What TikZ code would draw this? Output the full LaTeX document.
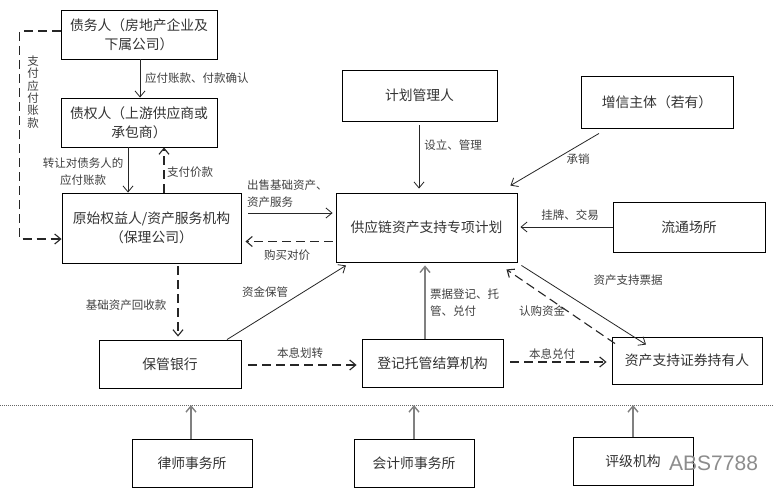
\documentclass[tikz,border=0pt]{standalone}
\usepackage{fontspec}
\newfontfamily\cjk{Noto Sans CJK SC}
\newfontfamily\wmfont{Liberation Sans}
\usetikzlibrary{arrows.meta}
\begin{document}
\begin{tikzpicture}[x=1pt,y=-1pt]
\tikzset{
 box/.style={draw=black, line width=0.9pt, fill=white, text=black!80, font=\cjk\fontsize{13.8}{19}\selectfont, align=center, inner sep=0pt},
 lbl/.style={text=black!75, font=\cjk\fontsize{11.5}{17}\selectfont, inner sep=0pt},
 arr/.style={-{Straight Barb[length=6pt,width=10pt]}, line width=0.8pt, draw=black!85},
 darr/.style={arr, line width=1.1pt, dash pattern=on 9pt off 5pt},
 garr/.style={arr, draw=black!50, line width=1.4pt},
}
\useasboundingbox (0,0) rectangle (774,495);
\fill[white] (0,0) rectangle (774,495);

% boxes
\node[box, minimum width=156pt, minimum height=49pt] (debtor) at (139,34.5) {债务人（房地产企业及\\下属公司）};
\node[box, minimum width=156pt, minimum height=49pt] (creditor) at (139,122.5) {债权人（上游供应商或\\承包商）};
\node[box, minimum width=179pt, minimum height=70pt] (orig) at (151.5,228) {原始权益人/资产服务机构\\（保理公司）};
\node[box, minimum width=155pt, minimum height=51pt] (mgr) at (419.5,95.5) {计划管理人};
\node[box, minimum width=152pt, minimum height=52pt] (enh) at (657,102) {增信主体（若有）};
\node[box, minimum width=181pt, minimum height=69pt] (plan) at (426.5,227.5) {供应链资产支持专项计划};
\node[box, minimum width=152pt, minimum height=50pt] (exch) at (689,227) {流通场所};
\node[box, minimum width=142pt, minimum height=48pt] (bank) at (170,364) {保管银行};
\node[box, minimum width=141pt, minimum height=48pt] (depo) at (432.5,363) {登记托管结算机构};
\node[box, minimum width=150pt, minimum height=47pt] (holder) at (687,360.5) {资产支持证券持有人};
\node[box, minimum width=120pt, minimum height=48pt] (law) at (192,463) {律师事务所};
\node[box, minimum width=120pt, minimum height=48pt] (acct) at (414,463) {会计师事务所};
\node[box, minimum width=120pt, minimum height=48pt] (rating) at (633,461) {评级机构};

% separator
\coordinate (sepL) at (0,405);
\coordinate (sepR) at (774,405);
\draw[black!60, line width=0.9pt, dash pattern=on 1pt off 1pt] (sepL) -- (sepR);

% connectors
\draw[arr] ([xshift=1pt]debtor.south) -- ([xshift=1pt]creditor.north);
\node[lbl, anchor=west] (l1) at (145,78) {应付账款、付款确认};

\draw[darr] ([yshift=3.5pt]debtor.west) -- ++(-41,0) |- ([yshift=-11pt]orig.west);
\node[lbl, align=center, font=\cjk\fontsize{11.5}{12.4}\selectfont] (l2) at (33,92) {支\\付\\应\\付\\账\\款};

\draw[arr] ([xshift=-11pt]creditor.south) -- ([xshift=-11pt]creditor.south |- orig.north);
\node[lbl, align=center] (l3) at (83,171.5) {转让对债务人的\\应付账款};

\draw[darr] ([xshift=12.5pt]orig.north) -- ([xshift=12.5pt]orig.north |- creditor.south);
\node[lbl, anchor=west] (l4) at (167,172) {支付价款};

\draw[arr, shorten <=7pt, shorten >=3pt] ([yshift=15pt]orig.east) -- ([yshift=15pt]orig.east -| plan.west);
\node[lbl, anchor=west, align=left] (l5) at (247,193.5) {出售基础资产、\\资产服务};

\draw[darr, shorten <=3pt, shorten >=4pt] ([yshift=-14pt]plan.west) -- ([yshift=-14pt]plan.west -| orig.east);
\node[lbl] (l6) at (287,255) {购买对价};

\draw[darr, shorten <=3pt, shorten >=3pt] ([xshift=26.5pt]orig.south) -- ([xshift=26.5pt]orig.south |- bank.north);
\node[lbl] (l7) at (126,305) {基础资产回收款};

\draw[arr] ([xshift=57pt]bank.north) -- ([xshift=-80.5pt,yshift=-3pt]plan.south);
\node[lbl] (l8) at (265,292) {资金保管};

\draw[arr, shorten <=4pt, shorten >=4pt] ([xshift=-0.5pt]mgr.south) -- ([xshift=-0.5pt]mgr.south |- plan.north);
\node[lbl] (l9) at (453,145) {设立、管理};

\draw[arr] ([xshift=-58pt,yshift=-5pt]enh.south) -- ([xshift=-7pt,yshift=7pt]plan.north east);
\node[lbl] (l10) at (578,159) {承销};

\draw[arr, shorten >=3pt] (exch.west) -- (exch.west -| plan.east);
\node[lbl] (l11) at (570,215) {挂牌、交易};

\draw[arr] ([xshift=4pt,yshift=-3pt]plan.south east) -- ([xshift=-41pt,yshift=-8pt]holder.north);
\node[lbl] (l12) at (628,280) {资产支持票据};

\draw[darr] ([xshift=-72pt,yshift=-7pt]holder.north) -- ([xshift=-11pt,yshift=-7pt]plan.south east);
\node[lbl] (l13) at (542,311) {认购资金};

\draw[garr, shorten >=3pt] ([xshift=-7.5pt]depo.north) -- ([xshift=-7.5pt]depo.north |- plan.south);
\node[lbl, anchor=west, align=left] (l14) at (430,303) {票据登记、托\\管、兑付};

\draw[darr, shorten <=7pt, shorten >=5pt] ([yshift=-1pt]bank.east) -- ([yshift=-1pt]bank.east -| depo.west);
\node[lbl] (l15) at (300,353) {本息划转};

\draw[darr, shorten <=7pt, shorten >=5pt] ([yshift=1pt]depo.east) -- ([yshift=1pt]depo.east -| holder.west);
\node[lbl] (l16) at (552,354) {本息兑付};

\draw[garr] ([xshift=-1pt]law.north) -- ([xshift=-1pt]law.north |- sepL);
\draw[garr] (acct.north) -- (acct.north |- sepL);
\draw[garr] (rating.north) -- (rating.north |- sepL);

% watermark
\node[text=black!45, font=\wmfont\fontsize{21}{21}\selectfont, anchor=west, inner sep=0pt] (wm) at (669,463) {ABS7788};
\end{tikzpicture}
\end{document}
